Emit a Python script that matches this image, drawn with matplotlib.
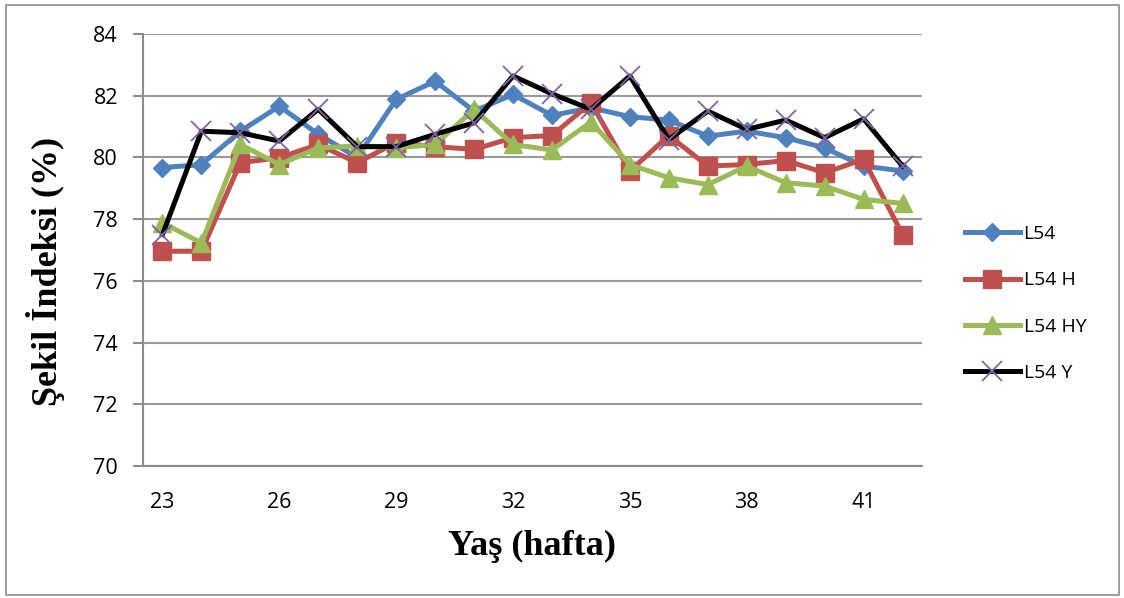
import numpy as np
import matplotlib
matplotlib.use("Agg")
import matplotlib.pyplot as plt
from matplotlib.patches import Rectangle

weeks = list(range(23, 43))
l54 = [79.67, 79.77, 80.85, 81.66, 80.75, 80.0, 81.88, 82.47, 81.5, 82.04,
       81.36, 81.61, 81.32, 81.21, 80.69, 80.85, 80.64, 80.31, 79.72, 79.56]
l54_h = [76.96, 76.96, 79.83, 79.99, 80.42, 79.83, 80.48, 80.35, 80.26, 80.64,
         80.71, 81.77, 79.56, 80.71, 79.72, 79.77, 79.90, 79.50, 79.94, 77.50]
l54_hy = [77.88, 77.23, 80.42, 79.77, 80.31, 80.37, 80.31, 80.42, 81.56, 80.42,
          80.24, 81.15, 79.77, 79.34, 79.12, 79.72, 79.18, 79.07, 78.64, 78.51]
l54_y = [77.50, 80.85, 80.80, 80.53, 81.56, 80.35, 80.35, 80.75, 81.12, 82.64,
         82.06, 81.56, 82.64, 80.58, 81.50, 80.91, 81.21, 80.64, 81.25, 79.72]

series = [
    ("L54", l54, "#4F81BD", "D", 9, "#4F81BD"),
    ("L54 H", l54_h, "#C0504D", "s", 13, "#C0504D"),
    ("L54 HY", l54_hy, "#9BBB59", "^", 13, "#9BBB59"),
    ("L54 Y", l54_y, "black", "x", 14, "#8064A2"),
]

fig = plt.figure(figsize=(11.24, 5.98), dpi=100)
ax = fig.add_axes([143 / 1124, 1 - 466 / 598, (922 - 143) / 1124, (466 - 34) / 598])

# frame round the whole chart
fig.patches.append(Rectangle((6 / 1124, 3 / 598), 1113 / 1124, 590 / 598,
                             transform=fig.transFigure, fill=False,
                             edgecolor="#8c8c8c", linewidth=1.2))

x = np.arange(len(weeks))
for name, vals, col, mk, ms, mcol in series:
    ax.plot(x, vals, color=col, linewidth=3.6, marker=mk, markersize=ms,
            markerfacecolor=mcol, markeredgecolor=mcol,
            markeredgewidth=1.3 if mk == "x" else 1, label=name)

ax.set_xlim(-0.5, len(weeks) - 0.5)
ax.set_ylim(70, 84)
ax.set_yticks(np.arange(70, 85, 2))
ax.set_xticks(x[::3])
ax.set_xticklabels([str(w) for w in weeks[::3]])
ax.yaxis.grid(True, color="#9a9a9a", linewidth=1.5)
ax.set_axisbelow(True)

for s in ["top", "right"]:
    ax.spines[s].set_visible(False)
for s in ["left", "bottom"]:
    ax.spines[s].set_color("#8c8c8c")
    ax.spines[s].set_linewidth(1.5)

for lab in ax.get_xticklabels() + ax.get_yticklabels():
    lab.set_fontfamily("Open Sans")
    lab.set_fontsize(15.5)
ax.tick_params(axis="x", length=0, pad=19)
ax.tick_params(axis="y", length=7, width=1.5, color="#8c8c8c", pad=11)

ax.set_ylabel("Şekil İndeksi (%)", family="Liberation Serif", weight="bold",
              fontsize=26)
ax.yaxis.set_label_coords(-0.1, 0.45)
ax.set_xlabel("Yaş (hafta)", family="Liberation Serif", weight="bold",
              fontsize=26, labelpad=12)

leg = ax.legend(loc="center left", bbox_to_anchor=(1.033, 0.376), frameon=False,
                prop={"family": "Open Sans", "size": 14}, handlelength=2.8,
                handletextpad=0.2, labelspacing=1.46)

fig.savefig("out.png", dpi=100)
